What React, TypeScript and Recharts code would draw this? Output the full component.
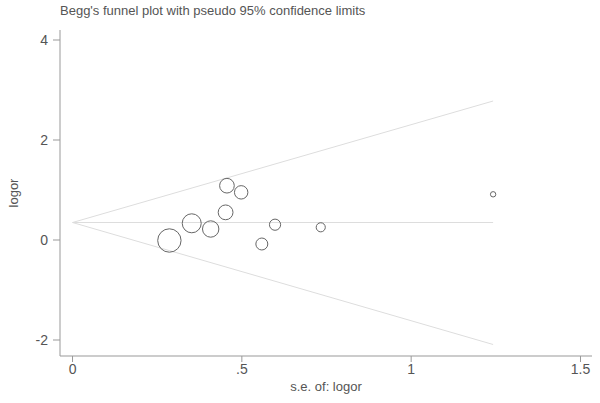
import {
  Label,
  ReferenceLine,
  Scatter,
  ScatterChart,
  XAxis,
  YAxis,
  ZAxis,
} from "recharts";

// study standard errors and log odds ratios
const se = [0.286, 0.352, 0.408, 0.452, 0.456, 0.498, 0.559, 0.598, 0.733, 1.242];
const logor = [-0.01, 0.334, 0.22, 0.553, 1.086, 0.953, -0.08, 0.306, 0.254, 0.914];

// funnel: pooled estimate and pseudo 95% limits at the largest s.e.
const pooled = 0.35;
const funnelSe = [0, 1.242];
const upperLimit = [pooled, 2.78];
const lowerLimit = [pooled, -2.09];

const xTicks = [0, 0.5, 1, 1.5];
const xTickLabels = ["0", ".5", "1", "1.5"];
const yTicks = [-2, 0, 2, 4];

const studies = se.map((s, i) => ({ se: s, logor: logor[i], w: 1 / (s * s) }));

const font = "'Liberation Sans', Arial, sans-serif";
const textColor = "#555";
const axisColor = "#999";
const funnelColor = "#ddd";

export default function App() {
  return (
    <div style={{ position: "absolute", left: 0, top: 0, width: 600, height: 403, background: "#fff", fontFamily: font }}>
      <div
        style={{
          position: "absolute",
          left: 60,
          top: 3,
          fontSize: 13,
          color: textColor,
          whiteSpace: "nowrap",
        }}
      >
        Begg's funnel plot with pseudo 95% confidence limits
      </div>
      <ScatterChart width={600} height={403} margin={{ top: 30, right: 8, bottom: 0, left: 0 }}>
        <XAxis
          type="number"
          dataKey="se"
          domain={[-0.037, 1.534]}
          ticks={xTicks}
          tickFormatter={(v: number) => xTickLabels[xTicks.indexOf(v)] ?? String(v)}
          allowDataOverflow
          height={47}
          tickSize={6}
          tickMargin={2}
          stroke={axisColor}
          tick={{ fill: textColor, fontSize: 14, fontFamily: font }}
        >
          <Label
            value="s.e. of: logor"
            position="insideBottom"
            offset={12}
            style={{ fill: textColor, fontSize: 13, fontFamily: font }}
          />
        </XAxis>
        <YAxis
          type="number"
          dataKey="logor"
          domain={[-2.32, 4.2]}
          ticks={yTicks}
          allowDataOverflow
          width={60}
          tickSize={7}
          tickMargin={5}
          stroke={axisColor}
          tick={{ fill: textColor, fontSize: 14, fontFamily: font }}
        >
          <Label
            value="logor"
            angle={-90}
            position="insideLeft"
            offset={13}
            style={{ fill: textColor, fontSize: 13, fontFamily: font, textAnchor: "middle" }}
          />
        </YAxis>
        <ZAxis type="number" dataKey="w" domain={[0, 12.25]} range={[0, 430]} />
        <ReferenceLine
          segment={[
            { x: funnelSe[0], y: upperLimit[0] },
            { x: funnelSe[1], y: upperLimit[1] },
          ]}
          stroke={funnelColor}
        />
        <ReferenceLine
          segment={[
            { x: funnelSe[0], y: lowerLimit[0] },
            { x: funnelSe[1], y: lowerLimit[1] },
          ]}
          stroke={funnelColor}
        />
        <ReferenceLine
          segment={[
            { x: funnelSe[0], y: pooled },
            { x: funnelSe[1], y: pooled },
          ]}
          stroke={funnelColor}
        />
        <Scatter
          data={studies}
          shape="circle"
          fill="none"
          stroke="#666"
          strokeWidth={1}
          isAnimationActive={false}
        />
      </ScatterChart>
    </div>
  );
}
